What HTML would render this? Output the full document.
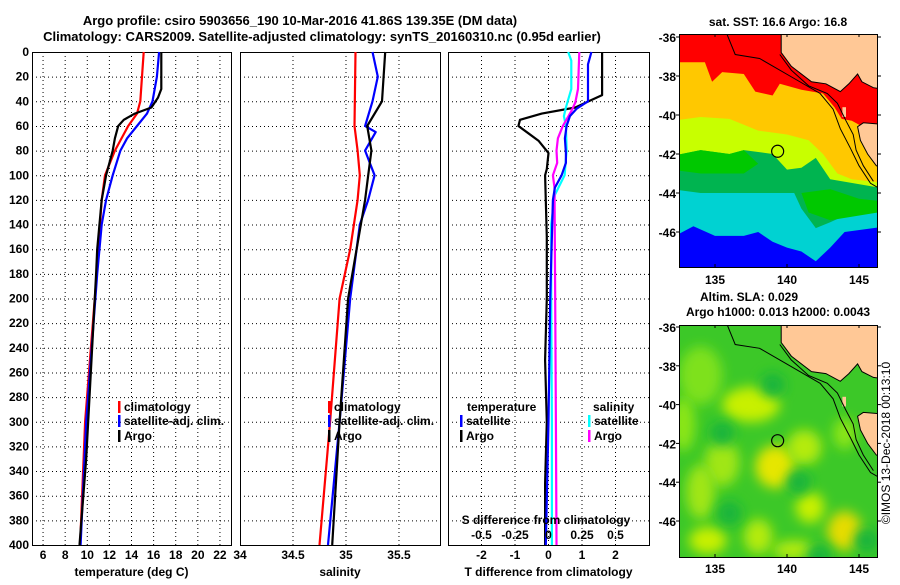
<!DOCTYPE html>
<html><head><meta charset="utf-8"><style>
body{margin:0;background:#fff;width:900px;height:580px;overflow:hidden}
svg text{font-family:"Liberation Sans",sans-serif;font-weight:bold;font-size:12px;fill:#000}
</style></head><body>
<svg id="fig" width="900" height="580" xmlns="http://www.w3.org/2000/svg"></svg>
<script>
// ---- profile data (depth in m) ----
const tClimDepth=[0,40,50,60,80,100,120,140,180,300,400];
const tClimVal=[15.1,14.8,14.5,13.7,12.5,11.6,11.3,11.15,10.85,9.8,9.35];
const tSatDepth=[0,20,40,50,60,70,80,100,120,140,180,300,400];
const tSatVal=[16.5,16.3,15.9,15.4,14.5,13.6,13.0,12.3,11.7,11.3,10.9,9.9,9.4];
const tArgoDepth=[0,30,37,45,50,55,60,70,80,100,120,160,180,330,400];
const tArgoVal=[16.7,16.7,16.4,15.8,14.3,13.3,12.8,12.5,12.3,11.7,11.3,10.9,10.8,9.9,9.3];
const sClimDepth=[0,60,80,100,120,160,200,300,400];
const sClimVal=[35.09,35.08,35.11,35.13,35.11,35.04,34.94,34.85,34.75];
const sSatDepth=[0,20,40,60,65,80,100,120,140,200,300,400];
const sSatVal=[35.25,35.30,35.25,35.18,35.28,35.18,35.27,35.21,35.13,35.04,34.94,34.83];
const sArgoDepth=[0,40,60,80,100,120,160,200,300,400];
const sArgoVal=[35.37,35.34,35.20,35.24,35.21,35.18,35.10,35.02,34.94,34.87];
const dTArgoDepth=[0,35,40,45,50,55,60,66,72,82,95,100,150,200,250,300,350,400];
const dTArgoVal=[1.6,1.6,1.2,0.8,-0.2,-0.85,-0.9,-0.6,-0.3,0.0,-0.05,-0.1,-0.05,-0.05,-0.1,-0.05,-0.1,-0.1];
const dTSatDepth=[0,10,40,46,52,60,70,82,90,100,110,120,200,300,400];
const dTSatVal=[1.28,1.18,1.18,0.84,0.64,0.54,0.49,0.52,0.52,0.39,0.19,0.13,0.05,0.0,-0.08];
const dSSatDepth=[0,7,30,45,52,60,80,100,116,140,200,300,400];
const dSSatVal=[0.147,0.17,0.17,0.13,0.115,0.13,0.135,0.12,0.047,0.02,0.02,0.025,0.025];
const dSArgoDepth=[0,30,41,48,60,70,80,90,100,110,200,300,400];
const dSArgoVal=[0.23,0.22,0.2,0.17,0.107,0.07,0.06,0.065,0.033,0.045,0.05,0.055,0.06];
const depthTicks=[0,20,40,60,80,100,120,140,160,180,200,220,240,260,280,300,320,340,360,380,400];
const tempTicks=[6,8,10,12,14,16,18,20,22];
const salTicks=[34,34.5,35,35.5];
const dTTicks=[-2,-1,0,1,2];
const dSTicks=[-0.5,-0.25,0,0.25,0.5];
const latTicks=[-36,-38,-40,-42,-44,-46];
const lonTicks=[135,140,145];

const NS="http://www.w3.org/2000/svg";
const svg=document.getElementById('fig');
function el(tag,attrs,parent){const e=document.createElementNS(NS,tag);for(const k in attrs)e.setAttribute(k,attrs[k]);(parent||svg).appendChild(e);return e;}
function txt(s,x,y,anchor,parent){const t=el('text',{x:x,y:y,'text-anchor':anchor||'start'},parent);t.textContent=s;return t;}

const yTop=52,yBot=545;
const yD=d=>yTop+d*(yBot-yTop)/400;
const P1={x0:32,x1:231,min:5,max:23};
const P2={x0:240,x1:440,min:34,max:35.887};
const P3={x0:448,x1:649,min:-3,max:3};
const P3S={x0:448,x1:649,min:-0.75,max:0.75};
const sx=(P,v)=>P.x0+(v-P.min)*(P.x1-P.x0)/(P.max-P.min);

let t=txt('Argo profile: csiro 5903656_190 10-Mar-2016 41.86S 139.35E (DM data)',300,25,'middle');t.style.fontSize='13px';
t=txt('Climatology: CARS2009. Satellite-adjusted climatology: synTS_20160310.nc (0.95d earlier)',322,41,'middle');t.style.fontSize='13px';

function panel(P,name,xt,xlab,xlabY){
  const g=el('g',{});
  
  
  depthTicks.forEach(d=>{if(d>0&&d<400)el('line',{x1:P.x0,x2:P.x1,y1:yD(d)+.5,y2:yD(d)+.5,stroke:'#000','stroke-dasharray':'1,3','stroke-width':1},g);});
  xt.forEach(v=>{const x=sx(P,v);if(x>P.x0+2&&x<P.x1-2)el('line',{x1:x,x2:x,y1:yTop,y2:yBot,stroke:'#000','stroke-dasharray':'1,3','stroke-width':1},g);
    const lt=txt(String(v),x,559,'middle',g);});
  el('rect',{x:P.x0+.5,y:yTop+.5,width:P.x1-P.x0,height:yBot-yTop,fill:'none',stroke:'#000','stroke-width':1},g);
  const xl=txt(xlab,(P.x0+P.x1)/2,xlabY,'middle',g);
  return g;
}
const g1=panel(P1,'temperature-panel',tempTicks,'temperature (deg C)',576);
const g2=panel(P2,'salinity-panel',salTicks,'salinity',576);
const g3=panel(P3,'difference-panel',dTTicks,'T difference from climatology',576);
depthTicks.forEach(d=>{const l=txt(String(d),29,yD(d)+4,'end');});

function line(P,depths,vals,color,name,g){
  const pts=depths.map((d,i)=>sx(P,vals[i]).toFixed(1)+','+yD(d).toFixed(1)).join(' ');
  const pl=el('polyline',{points:pts,fill:'none',stroke:color,'stroke-width':2.2,'stroke-linejoin':'round'},g);
  
  
}
line(P1,tClimDepth,tClimVal,'#f00','temp-climatology-line',g1);
line(P1,tSatDepth,tSatVal,'#00f','temp-satellite-line',g1);
line(P1,tArgoDepth,tArgoVal,'#000','temp-argo-line',g1);
line(P2,sClimDepth,sClimVal,'#f00','sal-climatology-line',g2);
line(P2,sSatDepth,sSatVal,'#00f','sal-satellite-line',g2);
line(P2,sArgoDepth,sArgoVal,'#000','sal-argo-line',g2);
line(P3,dTArgoDepth,dTArgoVal,'#000','dT-argo-line',g3);
line(P3S,dSSatDepth,dSSatVal,'#0ff','dS-satellite-line',g3);
line(P3S,dSArgoDepth,dSArgoVal,'#f0f','dS-argo-line',g3);
line(P3,dTSatDepth,dTSatVal,'#00f','dT-satellite-line',g3);

t=txt('S difference from climatology',546,524,'middle',g3);
dSTicks.forEach(v=>{const l=txt(String(v),sx(P3S,v),539,'middle',g3);});

function legend(x,y,color,label,g){
  const b=el('rect',{x:x,y:y-10,width:2.5,height:12,fill:color},g);
  
  const l=txt(label,x+6,y,'start',g);
}
legend(118,411,'#f00','climatology',g1);legend(118,425,'#00f','satellite-adj. clim.',g1);legend(118,440,'#000','Argo',g1);
legend(328,411,'#f00','climatology',g2);legend(328,425,'#00f','satellite-adj. clim.',g2);legend(328,440,'#000','Argo',g2);
t=txt('temperature',467,411,'start',g3);
legend(460,425,'#00f','satellite',g3);legend(460,440,'#000','Argo',g3);
t=txt('salinity',593,411,'start',g3);
legend(588,425,'#0ff','satellite',g3);legend(588,440,'#f0f','Argo',g3);

// ---- maps ----
function mapFrame(y0,y1,latTop,latBot,name){
  const M={x0:679,x1:877,y0:y0,y1:y1};
  const lonX=l=>715+(l-135)*14.4;
  const latY=la=>latTop+(-36-la)*(latBot-latTop)/10;
  const g=el('g',{});
  const cid='clip'+name;
  const cp=el('clipPath',{id:cid},g);el('rect',{x:M.x0,y:M.y0,width:M.x1-M.x0,height:M.y1-M.y0},cp);
  const inner=el('g',{'clip-path':'url(#'+cid+')'},g);
  return {M,lonX,latY,g,inner};
}
function poly(m,pts,fill,parent){
  return el('polygon',{points:pts.map(q=>m.lonX(q[0]).toFixed(1)+','+m.latY(q[1]).toFixed(1)).join(' '),fill:fill},parent);}
function pline(m,pts,parent){el('polyline',{points:pts.map(q=>m.lonX(q[0]).toFixed(1)+','+m.latY(q[1]).toFixed(1)).join(' '),fill:'none',stroke:'#000','stroke-width':1},parent);}
const land=[[139.6,-35],[139.6,-36.8],[140.3,-37.5],[141.7,-38.3],[142.7,-38.4],[143.7,-38.8],[144.3,-38.4],[144.9,-37.9],[145.2,-38.3],[146,-38.6],[147,-38.7],[147,-35]];
const tas=[[147,-40.5],[145.3,-40.4],[144.9,-40.6],[145.1,-41.3],[145.6,-42],[146.2,-42.6],[147,-42.8]];
const shelf1=[[135.8,-35.8],[136.4,-36.9],[138.1,-37.1],[140.2,-38],[142.3,-38.9],[143.2,-39.7],[143.7,-40.7],[144.4,-41.7],[145,-42.6],[145.8,-43.5],[146.5,-43.8]];
const shelf2=[[139.5,-36.9],[140.3,-37.7],[141.5,-38.5],[142.8,-38.9],[143.5,-39.4],[144.1,-40.3],[144.6,-41],[144.8,-41.8],[145.3,-42.6],[146,-43.4]];
function finishMap(m,ticksLabelY){
  poly(m,land,'#ffc896',m.inner);poly(m,tas,'#ffc896',m.inner);
  poly(m,[[143.85,-39.6],[144.1,-39.6],[144.1,-40.1],[143.85,-40.1]],'#ffc896',m.inner);
  pline(m,shelf1,m.inner);pline(m,shelf2,m.inner);
  pline(m,land.slice(0,-1),m.inner);pline(m,tas,m.inner);
  const c=el('circle',{cx:m.lonX(139.35),cy:m.latY(-41.86),r:6,fill:'none',stroke:'#000','stroke-width':1.2},m.g);
  
  el('rect',{x:m.M.x0+.5,y:m.M.y0+.5,width:m.M.x1-m.M.x0,height:m.M.y1-m.M.y0,fill:'none',stroke:'#000'},m.g);
  latTicks.forEach(la=>{const y=m.latY(la);el('line',{x1:m.M.x1,x2:m.M.x1+4,y1:y,y2:y,stroke:'#000'},m.g);el('line',{x1:m.M.x0-3,x2:m.M.x0,y1:y,y2:y,stroke:'#000'},m.g);
    const l=txt(String(la),m.M.x0-3,y+5,'end',m.g);});
  lonTicks.forEach(lo=>{const x=m.lonX(lo);el('line',{x1:x,x2:x,y1:m.M.y0,y2:m.M.y0+3,stroke:'#000'},m.g);el('line',{x1:x,x2:x,y1:m.M.y1-3,y2:m.M.y1,stroke:'#000'},m.g);
    const l=txt(String(lo),x,ticksLabelY,'middle',m.g);});
}
const m1=mapFrame(34,267,37,232,'sst-map');
el('rect',{x:679,y:34,width:198,height:233,fill:'#0000ff'},m1.inner);
const topEdge=[[147,-35],[132,-35]];
const bands=[
 ['#00d2d2',[[132,-46.3],[133.5,-45.7],[135,-46.2],[137,-46.2],[138,-46],[139,-46.5],[140,-46.8],[141,-47],[142,-47.5],[143,-46.8],[144,-46],[147,-45.7]]],
 ['#00b450',[[132,-43.8],[134,-44],[136,-44],[138,-44],[139.5,-44],[140.5,-44],[141,-44.8],[142,-45.8],[143,-45.5],[144.5,-45],[147,-44.7]]],
 ['#c8ff00',[[132,-42.1],[134,-41.8],[136,-42],[137,-41.8],[138,-41.9],[139,-42],[140,-42.8],[141,-42.7],[142,-42.2],[143,-43.3],[147,-43.8]]],
 ['#ffc800',[[132,-40.3],[134,-40.1],[136,-40.2],[138,-40.8],[140,-41],[141.5,-41.3],[142.5,-42],[143.5,-43],[144.5,-43.3],[147,-43.5]]],
 ['#ff0000',[[132,-37.3],[134.3,-37.3],[134.8,-38.3],[135.5,-37.8],[137,-37.9],[137.8,-38.8],[139,-39],[139.5,-38.4],[141,-38.7],[142.5,-38.9],[143.3,-39.6],[143.8,-40.2],[144.5,-40.3],[147,-41.3]]]
];
bands.forEach(b=>{poly(m1,b[1].concat(topEdge),b[0],m1.inner);});
poly(m1,[[132,-42.1],[134,-41.8],[136,-42],[137,-41.8],[138,-42.5],[137,-43],[134,-43],[132,-42.8]],'#00c800',m1.inner);
poly(m1,[[141,-44],[143,-43.8],[145,-44.3],[146.3,-44.4],[146.3,-45],[143,-45.4],[141.5,-45]],'#00c800',m1.inner);
finishMap(m1,284);
t=txt('sat. SST: 16.6 Argo: 16.8',778,26,'middle');

const m2=mapFrame(325,557,327,521,'sla-map');
const defs=el('defs',{});const f=el('filter',{id:'blur',x:'-50%',y:'-50%',width:'200%',height:'200%'},defs);el('feGaussianBlur',{stdDeviation:6},f);
el('rect',{x:679,y:325,width:198,height:232,fill:'#3cc828'},m2.inner);
const blobs=[[134,-38.5,1.5,1.5,'#7ee11e'],[137.5,-40,2,0.9,'#c8f000'],[139.2,-43.2,1.4,1.1,'#e6e600'],[135.5,-43,1.2,1.2,'#a0e614'],[134,-44.5,1,1.4,'#a0e614'],[141.2,-42.2,1.2,0.9,'#b4eb0a'],[141.6,-45.3,1,0.8,'#c8f000'],[144,-46.5,1.2,1,'#e6dc00'],[134.5,-47,1.3,0.7,'#c8f000'],[138,-46.8,1,0.9,'#b4eb0a'],[144,-41.5,0.8,0.8,'#8ce614'],[132.8,-41,0.8,1.4,'#8ce614'],[140.5,-47.5,1.5,0.5,'#b4eb0a']];
blobs.forEach(b=>{el('ellipse',{cx:m2.lonX(b[0]),cy:m2.latY(b[1]),rx:b[2]*14.4,ry:b[3]*19.4,fill:b[4],filter:'url(#blur)'},m2.inner);});
[[135.5,-41.5],[139,-39],[140.8,-44],[136,-45.6],[145.5,-47],[142.2,-47.8]].forEach(b=>{el('ellipse',{cx:m2.lonX(b[0]),cy:m2.latY(b[1]),rx:12,ry:12,fill:'#14b43c',filter:'url(#blur)'},m2.inner);});
finishMap(m2,573);
t=txt('Altim. SLA: 0.029',749,301,'middle');
t=txt('Argo h1000: 0.013 h2000: 0.0043',778,316,'middle');
t=txt('©IMOS 13-Dec-2018 00:13:10',0,0,'middle');t.setAttribute('transform','translate(890,443) rotate(-90)');t.style.fontWeight='normal';

</script>
</body></html>
